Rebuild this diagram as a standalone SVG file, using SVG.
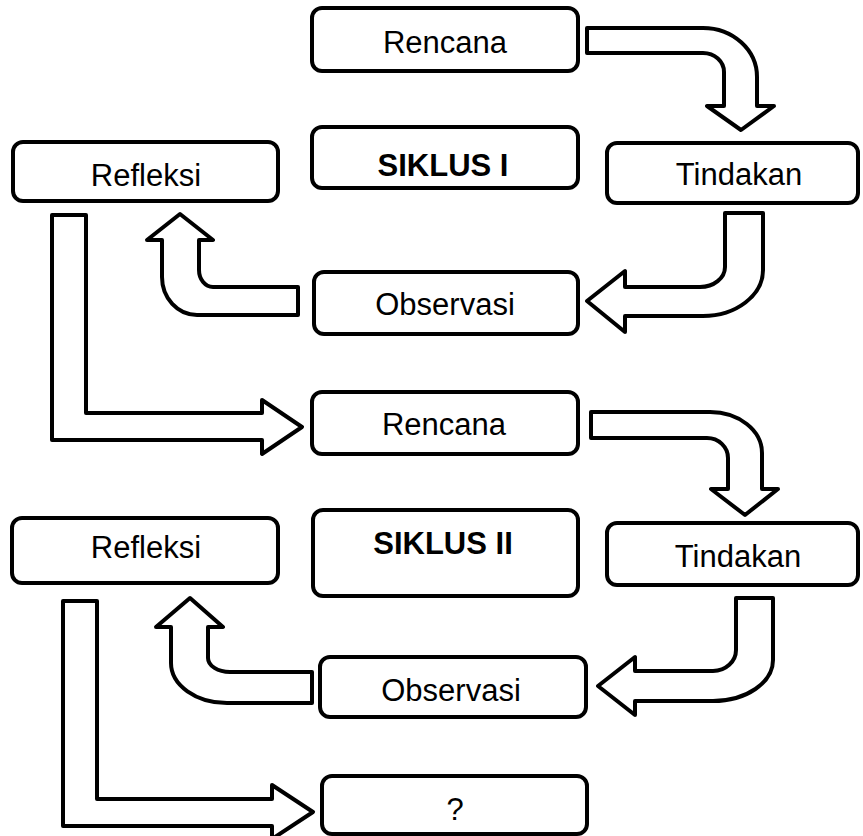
<svg xmlns="http://www.w3.org/2000/svg" width="863" height="836" viewBox="0 0 863 836">
<style>
.box{fill:#fff;stroke:#000;stroke-width:4}
.arr{fill:#fff;stroke:#000;stroke-width:4;stroke-linejoin:round}
.t{font-family:"Liberation Sans",Arial,sans-serif;font-size:31px;fill:#000;text-anchor:middle}
.b{font-weight:bold}
</style>
<rect width="863" height="836" fill="#fff"/>
<g id="connectors">
<path class="arr" d="M587 28 L703 28 A54 49 0 0 1 757 77 L757 106 L774 106 L741 130 L707 106 L724 106 L724 72 A21 19 0 0 0 703 53 L587 53 Z"/>
<path class="arr" d="M725 213 L763 213 L763 270 A60 46 0 0 1 703 316 L625 316 L625 332 L587 301 L625 271 L625 287 L700 287 A25 20 0 0 0 725 267 Z"/>
<path class="arr" d="M298 287 L298 315 L197 315 A35 38 0 0 1 162 277 L162 240 L147 240 L180 214 L213 240 L199 240 L199 270 A14 17 0 0 0 213 287 Z"/>
<path class="arr" d="M52 215 L86 215 L86 413 L262 413 L262 400 L302 427 L262 454 L262 440 L52 440 Z"/>
<path class="arr" d="M591 412 L710 412 A52 41 0 0 1 762 453 L762 489 L778 489 L745 515 L711 489 L728 489 L728 458 A21 20 0 0 0 707 438 L591 438 Z"/>
<path class="arr" d="M736 598 L773 598 L773 660 A60 41 0 0 1 713 701 L635 701 L635 715 L598 686 L635 657 L635 671 L713 671 A23 21 0 0 0 736 650 Z"/>
<path class="arr" d="M312 672 L312 703 L227 703 A56 40 0 0 1 171 663 L171 627 L156 627 L190 598 L223 627 L208 627 L208 658 A22 14 0 0 0 230 672 Z"/>
<path class="arr" d="M63 601 L97 601 L97 799 L272 799 L272 785 L313 812 L272 839 L272 826 L63 826 Z"/>
</g>
<g id="rencana1"><rect class="box" x="312" y="8" width="266" height="63" rx="10"/><text class="t" x="445" y="53">Rencana</text></g>
<g id="siklus1"><rect class="box" x="312" y="127" width="266" height="61" rx="10"/><text class="t b" x="443" y="176">SIKLUS I</text></g>
<g id="refleksi1"><rect class="box" x="13" y="142" width="265" height="59" rx="10"/><text class="t" x="146" y="186">Refleksi</text></g>
<g id="tindakan1"><rect class="box" x="607" y="143" width="251" height="60" rx="10"/><text class="t" x="739" y="185">Tindakan</text></g>
<g id="observasi1"><rect class="box" x="314" y="272" width="264" height="62" rx="10"/><text class="t" x="445" y="315">Observasi</text></g>
<g id="rencana2"><rect class="box" x="312" y="392" width="266" height="62" rx="10"/><text class="t" x="444" y="435">Rencana</text></g>
<g id="siklus2"><rect class="box" x="313" y="510" width="265" height="86" rx="10"/><text class="t b" x="443" y="554">SIKLUS II</text></g>
<g id="refleksi2"><rect class="box" x="12" y="518" width="266" height="65" rx="10"/><text class="t" x="146" y="558">Refleksi</text></g>
<g id="tindakan2"><rect class="box" x="607" y="523" width="251" height="62" rx="10"/><text class="t" x="738" y="567">Tindakan</text></g>
<g id="observasi2"><rect class="box" x="320" y="657" width="266" height="60" rx="10"/><text class="t" x="451" y="701">Observasi</text></g>
<g id="next"><rect class="box" x="322" y="776" width="265" height="58" rx="10"/><text class="t" x="455" y="820">?</text></g>
</svg>
